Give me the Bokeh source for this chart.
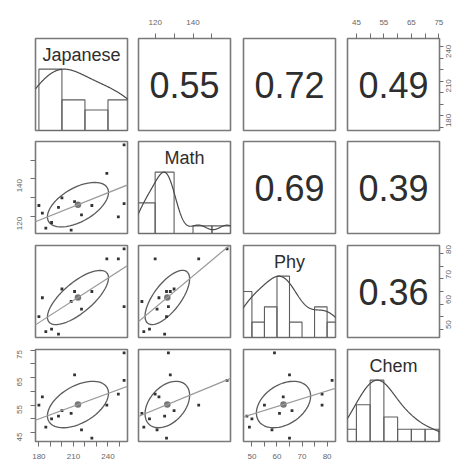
import math
import numpy as np
from bokeh.plotting import figure
from bokeh.layouts import gridplot
from bokeh.models import LinearAxis, FixedTicker, Range1d, Slope
from bokeh.core.properties import value
from bokeh.embed import file_html
from bokeh.resources import INLINE

# ---------------- data ----------------
var_names = ["Japanese", "Math", "Phy", "Chem"]
japanese = [180, 183, 186, 191, 197, 200, 208, 211, 217, 226, 239, 249, 254, 254]
math_scores = [126, 122, 114, 117, 125, 130, 113, 128, 121, 126, 143, 120, 158, 127]
phy = [55, 62.5, 49, 50, 48, 66, 61, 65, 58, 65, 78, 78, 82, 59]
chem = [55, 58, 47, 50, 51, 53, 52, 66, 46, 43, 55, 59, 64, 74]

corr_pairs = [(0, 1), (0, 2), (0, 3), (1, 2), (1, 3), (2, 3)]
corr_text = ["0.55", "0.72", "0.49", "0.69", "0.39", "0.36"]

japanese_breaks = [180, 200, 220, 240, 260]
math_breaks = [110, 120, 130, 140, 150, 160]
phy_breaks = [45, 50, 55, 60, 65, 70, 75, 80, 85]
chem_breaks = [40, 45, 50, 55, 60, 65, 70, 75]

japanese_ticks = [180, 210, 240]
japanese_minor_ticks = [190, 200, 220, 230, 250]
math_ticks = [120, 140]
math_minor_ticks = [130, 150]
phy_ticks = [50, 60, 70, 80]
phy_minor_ticks = [55, 65, 75]
chem_ticks = [45, 55, 65, 75]
chem_minor_ticks = [50, 60, 70]

DENSITY_ADJUST = 1.25

# ---------------- styling ----------------
FONT = "Liberation Sans"
BOX = "#7a7a7a"
TICK = "#6e6e6e"
TICK_TEXT = "#666666"
TEXT = "#2e2e2e"
HIST = "#5e5e5e"
DENS = "#4a4a4a"
ELL = "#5c5c5c"
REG = "#9a9a9a"
PT = "#333333"
MEAN = "#777777"

FRAME = 92
col_left = [35, 6, 7, 6]
col_right = [5, 6, 6, 20]
row_top = [38, 6, 6, 6]
row_bottom = [5, 6, 6, 22]

data = [np.array(v, dtype=float) for v in (japanese, math_scores, phy, chem)]
breaks = [japanese_breaks, math_breaks, phy_breaks, chem_breaks]
ticks = [japanese_ticks, math_ticks, phy_ticks, chem_ticks]
minor_ticks = [japanese_minor_ticks, math_minor_ticks, phy_minor_ticks, chem_minor_ticks]


def data_range(x):
    lo, hi = float(x.min()), float(x.max())
    d = hi - lo
    return lo - 0.04 * d, hi + 0.04 * d


def right_closed_counts(x, b):
    out = []
    for k in range(len(b) - 1):
        if k == 0:
            m = (x >= b[0]) & (x <= b[1])
        else:
            m = (x > b[k]) & (x <= b[k + 1])
        out.append(float(m.sum()))
    return np.array(out)


def density_nrd(x):
    q1, q3 = np.percentile(x, [25, 75])
    h = min(x.std(ddof=1), (q3 - q1) / 1.34)
    bw = DENSITY_ADJUST * 1.06 * h * len(x) ** (-0.2)
    grid = np.linspace(x.min() - 3 * bw, x.max() + 3 * bw, 512)
    dens = np.exp(-0.5 * ((grid[:, None] - x[None, :]) / bw) ** 2).sum(axis=1)
    return grid, dens / dens.max()


ranges = [data_range(x) for x in data]
corr_lookup = {pr: t for pr, t in zip(corr_pairs, corr_text)}


def add_axis(p, side, k):
    ax = LinearAxis(ticker=FixedTicker(ticks=ticks[k], minor_ticks=minor_ticks[k]))
    ax.axis_line_color = None
    ax.major_tick_line_color = TICK
    ax.minor_tick_line_color = TICK
    ax.major_tick_in = 0
    ax.minor_tick_in = 0
    ax.major_tick_out = 5 if side in ("above", "below", "left") else 4
    ax.minor_tick_out = ax.major_tick_out
    ax.major_label_text_font = FONT
    ax.major_label_text_font_size = "8px"
    ax.major_label_text_color = TICK_TEXT
    if side == "above":
        ax.major_label_standoff = 9
    elif side == "below":
        ax.major_label_standoff = 7
    elif side == "left":
        ax.major_label_standoff = 11
        ax.major_label_orientation = math.pi / 2
    else:
        ax.major_label_standoff = 5
        ax.major_label_orientation = math.pi / 2
    p.add_layout(ax, side)


figs = []
for i in range(4):
    row = []
    for j in range(4):
        xr = Range1d(*ranges[j])
        if i == j:
            yr = Range1d(0, 1.5)
        else:
            yr = Range1d(*ranges[i])
        p = figure(frame_width=FRAME, frame_height=FRAME, x_range=xr, y_range=yr,
                   min_border_left=col_left[j], min_border_right=col_right[j],
                   min_border_top=row_top[i], min_border_bottom=row_bottom[i],
                   x_axis_location=None, y_axis_location=None,
                   toolbar_location=None, output_backend="svg")
        p.xgrid.grid_line_color = None
        p.ygrid.grid_line_color = None
        p.outline_line_color = BOX
        p.outline_line_width = 1.6
        p.background_fill_color = "white"
        p.border_fill_color = "white"

        if i == j:
            x = data[i]
            b = np.array(breaks[i], dtype=float)
            cnt = right_closed_counts(x, b)
            p.quad(left=b[:-1], right=b[1:], bottom=0, top=cnt / cnt.max(),
                   fill_color="white", fill_alpha=0.0, line_color=HIST, line_width=1.1)
            gx, gy = density_nrd(x)
            p.line(gx, gy, line_color=DENS, line_width=1.2)
            p.text(x=[(ranges[i][0] + ranges[i][1]) / 2], y=[1.5 * (1 - 16.0 / FRAME)],
                   text=[var_names[i]], text_font=value(FONT), text_font_size="18px",
                   text_align="center", text_baseline="middle", text_color=TEXT)
        elif i < j:
            p.text(x=[(ranges[j][0] + ranges[j][1]) / 2], y=[(ranges[i][0] + ranges[i][1]) / 2],
                   text=[corr_lookup[(i, j)]], text_font=value(FONT), text_font_size="36px",
                   text_align="center", text_baseline="middle", text_color=TEXT)
        else:
            x = data[j]
            y = data[i]
            xm, ym = x.mean(), y.mean()
            xs, ys = x.std(ddof=1), y.std(ddof=1)
            r = np.corrcoef(x, y)[0, 1]
            slope = r * ys / xs
            icpt = ym - slope * xm
            p.add_layout(Slope(gradient=slope, y_intercept=icpt,
                               line_color=REG, line_width=1.2))
            ang = np.arange(52) * 2 * np.pi / 51
            th = np.sign(r) / np.sqrt(2)
            s1, s2 = np.sqrt(1 + r), np.sqrt(1 - r)
            ex = np.cos(ang) * s1 * th - np.sin(ang) * s2 * th
            ey = np.cos(ang) * s1 * th + np.sin(ang) * s2 * th
            p.line(ex * xs + xm, ey * ys + ym, line_color=ELL, line_width=1.3)
            p.scatter(x, y, marker="square", size=2.8, fill_color=PT, line_color=None)
            p.scatter([xm], [ym], marker="circle", size=6.5, fill_color=MEAN, line_color=None)

        # axes, in the alternating layout of pairs()
        if i == 0 and j % 2 == 1:
            add_axis(p, "above", j)
        if i == 3 and j % 2 == 0:
            add_axis(p, "below", j)
        if j == 0 and i % 2 == 1:
            add_axis(p, "left", i)
        if j == 3 and i % 2 == 0:
            add_axis(p, "right", i)
        row.append(p)
    figs.append(row)

grid = gridplot(figs, toolbar_location=None)
open("out.html", "w").write(file_html(grid, INLINE))
